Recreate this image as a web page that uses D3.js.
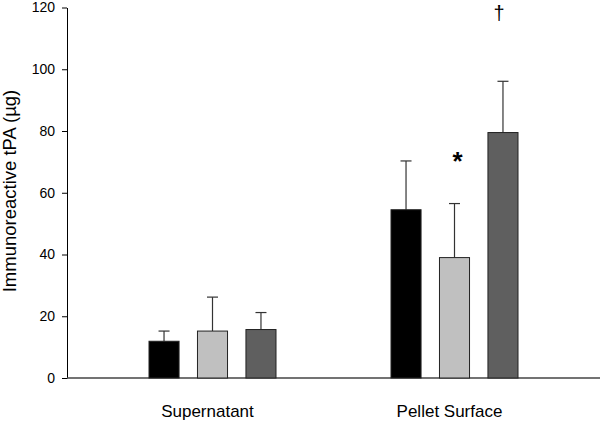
<!DOCTYPE html>
<html><head><meta charset="utf-8">
<script src="https://cdn.jsdelivr.net/npm/d3@7"></script>
<style>body{margin:0;background:#fff}svg{display:block;font-family:Arial,"Liberation Sans",sans-serif}</style>
</head><body><svg id="c" width="600" height="424"></svg>
<script>
const categories = ["Supernatant", "Pellet Surface"];
const seriesNames = ["s1", "s2", "s3"];
const seriesColors = ["#000000", "#c0c0c0", "#5f5f5f"];
const means = [[11.9, 15.2, 15.7], [54.5, 39.0, 79.5]];
const errors = [[3.3, 11.0, 5.5], [15.8, 17.5, 16.6]];
const marks = [["", "", ""], ["", "*", "†"]];
const yTicks = [0, 20, 40, 60, 80, 100, 120];

const svg = d3.select("#c");
const y = d3.scaleLinear().domain([0, 120]).range([378, 7.5]);
const x0 = d3.scaleBand().domain(categories).range([91.5, 575.5]);
const x1 = d3.scaleBand().domain(seriesNames).range([-63.5, 63.5]).paddingInner(0.38).paddingOuter(0);

// y axis
const yAxis = svg.append("g").attr("transform", "translate(67,0)")
  .call(d3.axisLeft(y).tickValues(yTicks).tickSize(5).tickPadding(7).tickSizeOuter(0));
yAxis.select(".domain").attr("stroke", "#000");
yAxis.selectAll("text").attr("font-size", 14).attr("fill", "#000").attr("font-family", "Arial, 'Liberation Sans', sans-serif");
// x axis line
svg.append("line").attr("x1", 67).attr("x2", 600).attr("y1", y(0)).attr("y2", y(0)).attr("stroke", "#444").attr("stroke-width", 1.5);

const data = [];
categories.forEach((c, i) => seriesNames.forEach((s, j) => data.push({c, s, j, m: means[i][j], e: errors[i][j], mark: marks[i][j]})));

const g = svg.append("g");
// error bars
data.forEach(d => {
  const cx = x0(d.c) + x0.bandwidth() / 2 + x1(d.s) + x1.bandwidth() / 2;
  g.append("line").attr("x1", cx).attr("x2", cx).attr("y1", y(d.m)).attr("y2", y(d.m + d.e)).attr("stroke", "#333").attr("stroke-width", 1.2);
  g.append("line").attr("x1", cx - 5.5).attr("x2", cx + 5.5).attr("y1", y(d.m + d.e)).attr("y2", y(d.m + d.e)).attr("stroke", "#333").attr("stroke-width", 1.2);
});
g.selectAll("rect").data(data).join("rect")
  .attr("x", d => x0(d.c) + x0.bandwidth() / 2 + x1(d.s))
  .attr("width", x1.bandwidth())
  .attr("y", d => y(d.m))
  .attr("height", d => y(0) - y(d.m))
  .attr("fill", d => seriesColors[d.j])
  .attr("stroke", "#222").attr("stroke-width", 1);

// annotations
data.filter(d => d.mark === "*").forEach(d => {
  const cx = x0(d.c) + x0.bandwidth() / 2 + x1(d.s) + x1.bandwidth() / 2;
  svg.append("text").attr("x", cx + 3).attr("y", y(d.m + d.e) - 34).attr("text-anchor", "middle")
    .attr("font-size", 26).attr("font-weight", "bold").attr("fill", "#000").text(d.mark);
});
data.filter(d => d.mark === "†").forEach(d => {
  const cx = x0(d.c) + x0.bandwidth() / 2 + x1(d.s) + x1.bandwidth() / 2;
  svg.append("text").attr("x", cx - 4).attr("y", 20).attr("text-anchor", "middle")
    .attr("font-size", 20).attr("fill", "#000").text(d.mark);
});

// category labels
svg.selectAll(".cat").data(categories).join("text")
  .attr("x", d => x0(d) + x0.bandwidth() / 2 - 5)
  .attr("y", 417).attr("text-anchor", "middle").attr("font-size", 17).attr("fill", "#000").text(d => d);

// y label
svg.append("text").attr("transform", "translate(16,191) rotate(-90)").attr("text-anchor", "middle")
  .attr("font-size", 18.5).attr("fill", "#000").text("Immunoreactive tPA (µg)");
</script></body></html>
